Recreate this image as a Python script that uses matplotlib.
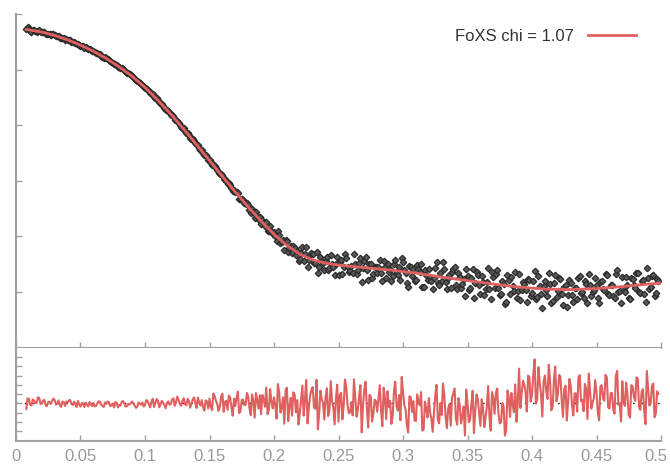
import numpy as np
import matplotlib.pyplot as plt
import matplotlib.transforms as mtransforms

plt.rcParams['font.family'] = ['Liberation Sans', 'DejaVu Sans']

# fit curve (log10 intensity) on a coarse q grid
fit_q = [0.008, 0.01, 0.02, 0.03, 0.04, 0.05, 0.06, 0.07, 0.08, 0.09, 0.10,
         0.11, 0.12, 0.13, 0.14, 0.15, 0.16, 0.17, 0.18, 0.19, 0.20,
         0.21, 0.22, 0.23, 0.24, 0.25, 0.27, 0.29, 0.31, 0.33, 0.35,
         0.37, 0.39, 0.41, 0.43, 0.45, 0.47, 0.49, 0.50]
fit_log_i = [-0.278, -0.285, -0.325, -0.385, -0.465, -0.560, -0.670, -0.800, -0.950, -1.120, -1.320,
             -1.550, -1.800, -2.070, -2.350, -2.635, -2.920, -3.200, -3.470, -3.725, -3.960,
             -4.160, -4.320, -4.420, -4.480, -4.515, -4.559, -4.604, -4.658, -4.730, -4.793,
             -4.856, -4.910, -4.946, -4.955, -4.937, -4.901, -4.856, -4.838]

# experimental points, even grid q = 0.008 ... 0.498
q_even = np.round(np.arange(0.008, 0.4985, 0.002), 4)
exp_even = [
    -0.270,
    -0.269, -0.317, -0.295, -0.319, -0.295,
    -0.329, -0.328, -0.362, -0.359, -0.367,
    -0.375, -0.404, -0.425, -0.428, -0.460,
    -0.462, -0.472, -0.509, -0.524, -0.532,
    -0.568, -0.579, -0.598, -0.633, -0.647,
    -0.665, -0.702, -0.712, -0.750, -0.783,
    -0.798, -0.823, -0.864, -0.901, -0.914,
    -0.952, -0.975, -1.015, -1.058, -1.087,
    -1.110, -1.165, -1.208, -1.238, -1.274,
    -1.326, -1.358, -1.426, -1.441, -1.503,
    -1.539, -1.605, -1.646, -1.718, -1.743,
    -1.810, -1.842, -1.910, -1.956, -2.032,
    -2.054, -2.137, -2.177, -2.242, -2.275,
    -2.363, -2.405, -2.454, -2.541, -2.572,
    -2.621, -2.720, -2.727, -2.812, -2.879,
    -2.890, -2.972, -3.052, -3.070, -3.182,
    -3.208, -3.218, -3.332, -3.350, -3.420,
    -3.434, -3.585, -3.560, -3.567, -3.702,
    -3.777, -3.752, -3.743, -3.898, -3.905,
    -3.924, -4.090, -3.974, -4.104, -4.240,
    -4.076, -4.204, -4.290, -4.208, -4.270,
    -4.401, -4.196, -4.324, -4.542, -4.337,
    -4.312, -4.486, -4.651, -4.375, -4.477,
    -4.444, -4.595, -4.341, -4.546, -4.490,
    -4.691, -4.432, -4.557, -4.386, -4.632,
    -4.526, -4.322, -4.667, -4.485, -4.819,
    -4.438, -4.608, -4.491, -4.738, -4.544,
    -4.659, -4.421, -4.800, -4.551, -4.490,
    -4.582, -4.719, -4.417, -4.686, -4.780,
    -4.462, -4.662, -4.915, -4.543, -4.588,
    -4.788, -4.587, -4.490, -4.901, -4.687,
    -4.577, -4.805, -4.747, -4.456, -4.879,
    -4.795, -4.580, -4.950, -4.697, -4.638,
    -4.540, -4.937, -4.735, -4.859, -5.073,
    -4.718, -4.934, -4.581, -4.842, -4.698,
    -5.035, -4.816, -4.942, -4.559, -5.120,
    -4.721, -4.666, -4.927, -5.037, -4.848,
    -5.183, -4.783, -4.729, -4.974, -5.100,
    -4.670, -4.959, -4.857, -5.176, -4.789,
    -5.018, -4.617, -5.085, -4.894, -5.287,
    -4.796, -5.067, -4.858, -5.159, -4.695,
    -4.981, -4.772, -5.238, -4.879, -5.060,
    -4.835, -5.178, -4.921, -4.740, -5.008,
    -5.111, -4.854, -4.672, -5.076, -4.954,
    -4.877, -5.203, -4.795, -4.971, -4.698,
    -5.054, -4.870, -5.107, -4.608, -4.980,
    -4.721, -5.001, -4.877, -5.127, -4.763,
    -4.923, -4.664, -5.019, -4.775, -5.175,
    -4.751, -4.912, -4.684, -5.025, -4.797,
]
res_even = [
    -0.60,
    0.48, -0.22, 0.31, 0.03, 0.59,
    -0.02, 0.37, -0.29, 0.16, 0.28,
    0.35, -0.04, -0.19, 0.20, -0.28,
    0.09, 0.36, -0.18, -0.06, 0.27,
    -0.35, 0.00, 0.08, -0.33, -0.08,
    0.05, -0.28, 0.23, -0.15, -0.38,
    -0.05, 0.13, -0.23, -0.45, 0.08,
    -0.18, 0.18, 0.00, -0.30, -0.13,
    0.20, -0.25, -0.35, -0.03, 0.10,
    -0.18, 0.25, -0.42, 0.49, 0.04,
    0.32, -0.14, 0.11, -0.53, 0.21,
    -0.08, 0.55, 0.13, 0.38, -0.26,
    0.56, -0.22, 0.24, -0.01, 0.66,
    -0.50, 0.09, 0.36, -0.77, 0.23,
    0.52, -0.74, 0.76, -0.08, -0.38,
    1.05, 0.14, -0.70, 0.63, -1.33,
    -0.28, 1.26, -0.84, 0.42, -0.14,
    0.72, -1.28, 0.24, 1.12, -0.56,
    -1.17, 0.45, 1.71, -0.72, 0.18,
    0.66, -1.65, 1.21, -0.44, -2.20,
    1.68, -0.24, -1.32, 0.96, 0.36,
    -1.08, 1.92, 0.48, -2.16, 0.84,
    1.76, -0.58, -2.79, 1.37, 0.07,
    0.72, -1.36, 2.41, -0.45, 0.46,
    -1.98, 1.14, -0.29, 1.79, -1.07,
    0.13, 2.60, -1.43, 0.78, -3.12,
    1.43, -0.52, 0.91, -1.95, 0.39,
    -0.91, 1.95, -2.47, 0.52, 1.30,
    0.26, -1.30, 2.34, -0.78, -1.82,
    1.29, -0.66, -3.13, 0.64, 0.25,
    -1.90, 0.18, 1.22, -2.81, -0.60,
    0.57, -1.64, -0.99, 2.00, -2.16,
    -1.25, 0.96, -2.68, -0.08, 0.57,
    1.61, -2.29, -0.21, -1.38, -3.46,
    0.05, -1.77, 1.35, -0.86, 0.44,
    -2.42, -0.47, -1.51, 1.87, -2.94,
    0.57, 1.09, -1.12, -2.03, -0.34,
    -2.90, 0.61, 1.13, -0.95, -1.99,
    3.74, 1.08, 2.06, -0.88, 2.76,
    0.96, 4.74, 0.40, 2.22, -1.42,
    3.00, 0.48, 2.44, -0.36, 3.98,
    0.92, 2.88, -1.46, 1.90, 0.22,
    1.92, -1.30, 1.08, 2.76, 0.24,
    -0.84, 1.54, 3.22, -0.56, 0.56,
    1.26, -1.82, 1.96, 0.28, 2.80,
    -0.56, 1.12, -1.12, 3.50, 0.00,
    2.38, -0.28, 0.84, -1.54, 1.82,
    0.28, 2.66, -0.70, 1.54, -2.24,
    1.58, 0.04, 2.14, -1.08, 1.02,
]

# experimental points, odd grid q = 0.009 ... 0.497
q_odd = np.round(np.arange(0.009, 0.4975, 0.002), 4)
exp_odd = [
    -0.240,
    -0.309, -0.285, -0.310, -0.297, -0.329,
    -0.324, -0.354, -0.353, -0.372, -0.365,
    -0.399, -0.400, -0.439, -0.438, -0.452,
    -0.464, -0.496, -0.507, -0.545, -0.555,
    -0.567, -0.603, -0.616, -0.629, -0.665,
    -0.690, -0.707, -0.726, -0.766, -0.781,
    -0.805, -0.851, -0.872, -0.898, -0.945,
    -0.971, -0.990, -1.043, -1.067, -1.098,
    -1.138, -1.192, -1.214, -1.262, -1.307,
    -1.331, -1.393, -1.429, -1.494, -1.511,
    -1.589, -1.615, -1.682, -1.724, -1.780,
    -1.820, -1.897, -1.917, -1.997, -2.041,
    -2.103, -2.141, -2.229, -2.255, -2.324,
    -2.362, -2.442, -2.504, -2.542, -2.621,
    -2.680, -2.689, -2.772, -2.865, -2.872,
    -2.974, -2.996, -3.036, -3.128, -3.158,
    -3.205, -3.319, -3.323, -3.397, -3.403,
    -3.524, -3.499, -3.674, -3.633, -3.656,
    -3.704, -3.814, -3.902, -3.814, -3.964,
    -3.992, -3.906, -4.114, -4.064, -4.062,
    -4.288, -4.173, -4.170, -4.328, -4.437,
    -4.303, -4.449, -4.181, -4.426, -4.302,
    -4.471, -4.276, -4.540, -4.444, -4.609,
    -4.374, -4.561, -4.498, -4.695, -4.372,
    -4.451, -4.676, -4.317, -4.553, -4.623,
    -4.649, -4.500, -4.603, -4.388, -4.568,
    -4.363, -4.786, -4.504, -4.674, -4.557,
    -4.540, -4.654, -4.450, -4.740, -4.635,
    -4.794, -4.502, -4.640, -4.546, -4.387,
    -4.608, -4.834, -4.528, -4.702, -4.799,
    -4.506, -4.630, -4.910, -4.606, -4.782,
    -4.737, -4.952, -4.569, -4.837, -4.662,
    -4.460, -4.817, -4.746, -4.934, -4.589,
    -4.869, -4.654, -4.934, -4.758, -4.582,
    -4.961, -4.743, -5.109, -4.635, -4.867,
    -4.708, -5.059, -4.811, -4.937, -4.643,
    -4.918, -4.609, -5.049, -4.800, -5.210,
    -4.691, -5.026, -4.882, -4.632, -4.983,
    -5.137, -4.826, -4.964, -4.773, -5.076,
    -4.795, -5.129, -4.712, -5.031, -4.884,
    -4.961, -4.662, -5.188, -4.844, -5.085,
    -4.741, -5.027, -4.908, -5.269, -4.790,
    -5.059, -4.922, -5.131, -4.709, -4.992,
    -4.795, -5.198, -4.867, -5.000, -4.743,
    -5.115, -4.811, -4.943, -4.669, -5.041,
    -4.872, -5.063, -4.670, -4.996, -5.188,
    -4.958, -4.729, -5.099, -4.750, -4.880,
    -4.651, -4.991, -4.807, -5.027, -4.558,
    -4.944, -4.715, -5.072, -4.768,
]
res_odd = [
    0.55,
    -0.15, 0.41, 0.06, 0.66, -0.05,
    0.31, -0.23, 0.16, -0.05, 0.52,
    -0.13, 0.32, -0.37, 0.14, 0.20,
    0.33, -0.06, 0.18, -0.39, -0.12,
    0.03, -0.40, -0.13, 0.15, -0.30,
    -0.33, -0.03, 0.18, -0.25, 0.10,
    0.20, -0.30, 0.00, 0.13, -0.43,
    -0.23, 0.25, -0.35, -0.05, 0.05,
    -0.03, -0.48, 0.10, -0.15, -0.33,
    0.35, -0.11, 0.18, -0.39, 0.46,
    -0.42, 0.28, -0.21, 0.04, -0.14,
    0.41, -0.26, 0.73, -0.05, 0.27,
    -0.04, 0.49, -0.46, 0.42, 0.03,
    0.63, -0.23, -0.41, 0.32, -0.54,
    -0.38, 1.06, 0.28, -0.80, 0.70,
    -0.91, 0.28, 0.84, -0.42, 0.49,
    0.63, -1.05, 0.35, -0.21, 1.12,
    -0.56, 0.96, -1.52, 0.32, 0.88,
    0.90, -0.36, -1.17, 1.53, -0.54,
    -0.22, 2.09, -0.99, 0.66, 1.43,
    -1.92, 0.60, 1.20, -0.96, -2.28,
    0.36, -1.32, 2.52, -0.48, 1.44,
    -0.45, 2.54, -1.10, 0.46, -1.75,
    1.63, -0.71, 0.20, -2.27, 2.02,
    0.88, -1.72, 2.57, -0.16, -0.94,
    -1.30, 0.52, -0.65, 1.95, -0.13,
    2.34, -2.60, 0.78, -1.17, 0.26,
    0.52, -0.78, 1.69, -1.69, -0.39,
    -2.21, 1.30, -0.26, 0.91, 2.86,
    -0.14, -2.35, 0.77, -0.92, -1.83,
    0.96, -0.21, -2.94, 0.18, -1.51,
    -0.99, -3.07, 0.83, -1.77, 0.05,
    2.13, -1.38, -0.60, -2.42, 1.09,
    -1.64, 0.57, -2.16, -0.34, 1.48,
    -2.03, -0.08, -3.20, 0.96, -0.99,
    0.44, -2.55, -0.34, -1.38, 1.22,
    -1.12, 1.61, -2.16, 0.05, -3.46,
    1.39, -1.47, -0.17, 2.04, 0.20,
    -0.50, 2.44, 1.18, 3.00, 0.20,
    3.06, -0.02, 3.90, 0.96, 2.36,
    1.36, 4.16, -0.74, 2.48, 0.24,
    3.06, 0.40, 1.52, -1.84, 2.64,
    -0.18, 1.08, -0.88, 3.04, 0.38,
    2.10, -1.68, 1.40, 0.14, 2.52,
    -0.98, 1.82, 0.56, 3.08, -0.42,
    1.12, -0.70, 2.94, -0.14, -1.96,
    0.14, 2.24, -1.26, 1.96, 0.70,
    2.80, -0.42, 1.26, -0.84, 3.50,
    -0.24, 1.86, -1.50, 1.30,
]

chi = 1.07
xticks = [0, 0.05, 0.1, 0.15, 0.2, 0.25, 0.3, 0.35, 0.4, 0.45, 0.5]
xtick_labels = ['0', '0.05', '0.1', '0.15', '0.2', '0.25', '0.3', '0.35', '0.4', '0.45', '0.5']

# merge both grids into one q-ordered profile
q = np.concatenate([q_even, q_odd])
order = np.argsort(q)
q = q[order]
exp_log_i = np.concatenate([exp_even, exp_odd])[order]
residuals = np.concatenate([res_even, res_odd])[order]

red = '#e06060'
gray = '#a0a0a0'

fig = plt.figure(figsize=(6.7, 4.66), dpi=100)
ax1 = fig.add_axes([0.02388, 0.25386, 0.96269, 0.71609])
ax2 = fig.add_axes([0.02388, 0.05472, 0.96269, 0.19914])

# top: profile + fit
ax1.semilogy(q, 10.0 ** exp_log_i, linestyle='none', marker='D', markersize=3.3,
             markerfacecolor='#5a5a5a', markeredgecolor='#2a2a2a', markeredgewidth=0.9, zorder=2)
ax1.semilogy(fit_q, 10.0 ** np.array(fit_log_i), color=red, lw=2.0, zorder=3,
             label=f'FoXS chi = {chi:.2f}')
ax1.set_xlim(0, 0.5)
ax1.set_ylim(1e-6, 1)
ax1.set_yticks([1e-5, 1e-4, 1e-3, 1e-2, 1e-1, 1])
ax1.yaxis.set_minor_locator(plt.NullLocator())
ax1.set_yticklabels([])
ax1.set_xticks(xticks)
ax1.set_xticklabels([])

leg = ax1.legend(loc='upper right', frameon=False, markerfirst=False, fontsize=12,
                 handlelength=2.9, handletextpad=0.85, bbox_to_anchor=(0.985, 1.0))
for t in leg.get_texts():
    t.set_color('#333333')

# bottom: residuals
ax2.axhline(0, color='black', lw=1, linestyle=(0, (1, 5)), zorder=1)
ax2.plot(q, residuals, color=red, lw=1.5, zorder=2)
ax2.set_xlim(0, 0.5)
ax2.set_ylim(-4, 6)
ax2.set_yticks(range(-3, 6))
ax2.set_yticklabels([])
ax2.set_xticks(xticks)
ax2.set_xticklabels(xtick_labels)

for ax in (ax1, ax2):
    ax.spines['top'].set_visible(False)
    ax.spines['right'].set_visible(False)
    for s in ('left', 'bottom'):
        ax.spines[s].set_color(gray)
        ax.spines[s].set_linewidth(1.5)
    ax.tick_params(direction='in', length=4, width=1, color=gray,
                   labelcolor='#999999', labelsize=12, pad=6)

# keep the last label inside the figure edge
last = ax2.get_xticklabels()[-1]
last.set_transform(last.get_transform() + mtransforms.ScaledTranslation(-4 / 72, 0, fig.dpi_scale_trans))

fig.savefig('out.png', dpi=100)
